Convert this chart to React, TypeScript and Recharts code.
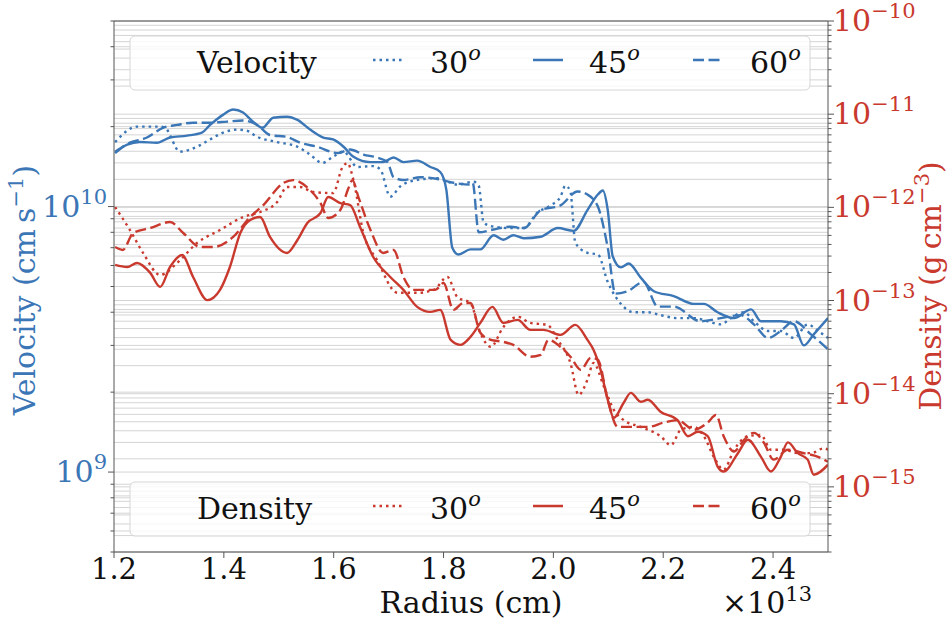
import React from 'react';
import { LineChart, Line, XAxis, YAxis, ReferenceLine } from 'recharts';

const BLUE = '#3b76b6';
const RED = '#c9392e';
const FONT = '"DejaVu Serif", "Liberation Serif", "Times New Roman", serif';
const SPINE = '#555555';
const GRID = '#d4d4d4';
const FS = 30;
const FS_SUP = 21;

// radius in units of 1e13 cm; velocity in units of 1e9 cm/s; density in units of 1e-15 g/cm^3
const velocity30: [number, number][] = [
  [1.202, 17.5], [1.242, 20.0], [1.284, 20.0], [1.293, 19.8], [1.320, 16.1], [1.351, 16.8],
  [1.375, 17.9], [1.399, 19.0], [1.424, 19.5], [1.442, 19.3], [1.461, 18.3], [1.497, 17.5],
  [1.534, 16.8], [1.557, 15.7], [1.579, 14.6], [1.599, 15.4], [1.618, 16.1], [1.643, 14.1],
  [1.672, 14.2], [1.685, 13.8], [1.703, 10.9], [1.721, 11.9], [1.752, 12.6], [1.789, 12.8],
  [1.825, 12.1], [1.855, 12.4], [1.864, 12.0], [1.873, 8.7], [1.891, 8.4], [1.922, 8.3],
  [1.946, 8.3], [1.971, 9.5], [1.995, 10.1], [2.013, 10.9], [2.022, 12.0], [2.031, 11.4],
  [2.040, 7.3], [2.062, 6.7], [2.081, 6.6], [2.099, 5.2], [2.123, 4.3], [2.146, 4.0],
  [2.172, 4.0], [2.195, 3.9], [2.226, 3.8], [2.256, 3.8], [2.281, 3.7], [2.305, 3.6],
  [2.323, 3.8], [2.347, 4.0], [2.365, 3.7], [2.391, 3.4], [2.414, 3.4], [2.438, 3.2],
  [2.463, 3.6], [2.482, 3.4], [2.500, 3.2],
];

const velocity45: [number, number][] = [
  [1.202, 15.9], [1.224, 17.1], [1.247, 17.5], [1.278, 17.4], [1.302, 18.2], [1.333, 18.5],
  [1.360, 19.0], [1.375, 20.3], [1.399, 22.2], [1.417, 23.2], [1.435, 22.6], [1.453, 20.9],
  [1.470, 19.8], [1.490, 21.6], [1.515, 21.8], [1.534, 21.2], [1.557, 19.5], [1.581, 18.2],
  [1.599, 17.9], [1.618, 16.8], [1.636, 15.4], [1.667, 14.7], [1.690, 14.7], [1.709, 15.3],
  [1.727, 14.7], [1.752, 14.9], [1.776, 14.1], [1.794, 13.5], [1.805, 11.6], [1.816, 7.0],
  [1.827, 6.6], [1.849, 6.9], [1.867, 6.9], [1.891, 7.8], [1.909, 7.5], [1.927, 7.8],
  [1.946, 7.6], [1.977, 7.7], [2.008, 8.3], [2.037, 8.1], [2.062, 9.7], [2.081, 11.1],
  [2.090, 11.5], [2.099, 9.7], [2.108, 6.5], [2.123, 5.9], [2.137, 6.1], [2.159, 5.4],
  [2.183, 4.8], [2.219, 4.6], [2.256, 4.3], [2.274, 4.3], [2.299, 4.0], [2.329, 3.8],
  [2.360, 4.1], [2.378, 3.7], [2.414, 3.7], [2.438, 3.6], [2.456, 3.0], [2.474, 3.3],
  [2.500, 3.8],
];

const velocity60: [number, number][] = [
  [1.202, 16.1], [1.229, 17.4], [1.260, 18.2], [1.289, 19.8], [1.315, 20.3], [1.344, 20.7],
  [1.375, 20.7], [1.406, 20.9], [1.435, 21.1], [1.461, 20.3], [1.484, 18.6], [1.515, 18.3],
  [1.539, 17.4], [1.570, 16.8], [1.607, 15.9], [1.630, 16.4], [1.654, 15.7], [1.679, 15.3],
  [1.698, 14.7], [1.709, 12.9], [1.727, 12.6], [1.758, 12.9], [1.789, 12.7], [1.818, 12.3],
  [1.849, 12.1], [1.853, 12.3], [1.864, 8.0], [1.891, 8.2], [1.922, 8.4], [1.946, 8.3],
  [1.977, 9.7], [2.013, 10.1], [2.044, 11.4], [2.062, 11.1], [2.081, 10.0], [2.099, 7.0],
  [2.113, 4.7], [2.135, 4.8], [2.164, 5.2], [2.190, 4.2], [2.219, 4.2], [2.268, 3.7],
  [2.305, 3.8], [2.341, 3.9], [2.365, 3.6], [2.391, 3.2], [2.414, 3.4], [2.438, 3.7],
  [2.469, 3.3], [2.500, 2.9],
];

const density30: [number, number][] = [
  [1.202, 1007], [1.229, 571], [1.253, 324], [1.284, 188], [1.315, 253], [1.351, 414],
  [1.393, 571], [1.435, 787], [1.466, 891], [1.497, 1140], [1.515, 1651], [1.539, 1651],
  [1.563, 1459], [1.599, 1423], [1.616, 2704], [1.625, 2985], [1.636, 1962], [1.654, 531],
  [1.679, 272], [1.716, 121], [1.752, 121], [1.782, 130], [1.807, 179], [1.825, 109],
  [1.849, 94], [1.867, 45], [1.886, 31.8], [1.909, 52], [1.935, 67], [1.958, 57.5],
  [1.989, 54.8], [2.008, 37.8], [2.031, 21.4], [2.046, 9.7], [2.062, 14.1], [2.073, 21.4],
  [2.092, 11.9], [2.110, 6.7], [2.128, 5.2], [2.159, 4.4], [2.195, 3.5], [2.214, 2.8],
  [2.232, 4.1], [2.256, 4.4], [2.274, 3.5], [2.292, 2.1], [2.310, 1.53], [2.329, 2.5],
  [2.354, 3.5], [2.378, 3.6], [2.396, 2.5], [2.420, 2.5], [2.445, 2.3], [2.469, 2.3],
  [2.493, 2.6], [2.500, 2.5],
];

const density45: [number, number][] = [
  [1.202, 241], [1.224, 229], [1.242, 253], [1.266, 198], [1.284, 140], [1.302, 229],
  [1.324, 308], [1.344, 179], [1.370, 101], [1.393, 130], [1.411, 229], [1.430, 531],
  [1.448, 731], [1.466, 787], [1.484, 481], [1.515, 324], [1.534, 446], [1.552, 679],
  [1.576, 869], [1.590, 1290], [1.612, 1112], [1.630, 1059], [1.648, 615], [1.672, 293],
  [1.703, 179], [1.727, 130], [1.752, 85.4], [1.776, 75.5], [1.794, 79.3], [1.813, 37.8],
  [1.831, 33.4], [1.849, 40.7], [1.867, 57.5], [1.889, 85.4], [1.909, 57.5], [1.935, 62],
  [1.958, 48.4], [1.982, 48.4], [2.013, 42.8], [2.040, 54.8], [2.062, 37.8], [2.073, 29.6],
  [2.086, 18.0], [2.099, 8.6], [2.110, 5.5], [2.128, 8.0], [2.141, 10.2], [2.159, 8.2],
  [2.172, 8.6], [2.195, 6.4], [2.226, 5.2], [2.245, 3.5], [2.263, 3.9], [2.281, 3.5],
  [2.299, 1.65], [2.310, 1.46], [2.336, 2.3], [2.354, 3.2], [2.378, 2.1], [2.396, 1.46],
  [2.414, 2.1], [2.427, 3.0], [2.445, 2.3], [2.463, 1.96], [2.474, 1.35], [2.500, 1.73],
];

const density60: [number, number][] = [
  [1.202, 375], [1.216, 349], [1.235, 531], [1.266, 600], [1.302, 695], [1.326, 531],
  [1.357, 375], [1.380, 375], [1.417, 481], [1.448, 787], [1.472, 1059], [1.508, 1821],
  [1.526, 1962], [1.557, 1532], [1.576, 1112], [1.590, 768], [1.612, 935], [1.627, 1610],
  [1.634, 1962], [1.645, 1290], [1.667, 571], [1.690, 324], [1.709, 349], [1.727, 179],
  [1.745, 130], [1.771, 130], [1.785, 130], [1.800, 154], [1.818, 79.3], [1.836, 94.2],
  [1.849, 94.2], [1.867, 45], [1.886, 37.8], [1.909, 36], [1.927, 33.4], [1.958, 24.9],
  [1.977, 26.1], [1.991, 37.8], [2.013, 31.8], [2.031, 24.9], [2.050, 18.0], [2.068, 24.3],
  [2.081, 23.1], [2.099, 8.6], [2.117, 4.4], [2.141, 4.4], [2.172, 4.4], [2.201, 4.9],
  [2.226, 5.2], [2.256, 4.1], [2.281, 4.9], [2.296, 5.9], [2.310, 3.5], [2.329, 2.4],
  [2.347, 3.2], [2.365, 3.8], [2.383, 3.0], [2.401, 1.96], [2.427, 2.5], [2.456, 2.3],
  [2.482, 2.1], [2.500, 1.86],
];

const xTicks = [1.2, 1.4, 1.6, 1.8, 2.0, 2.2, 2.4];
const velMajorTicks = [1, 10];
const velMinorTicks = [0.5, 0.6, 0.7, 0.8, 0.9, 2, 3, 4, 5, 6, 7, 8, 9, 20, 30, 40, 50];
const denMajorTicks = [1, 10, 100, 1000, 10000, 100000];
const denMinorTicks = [
  0.2, 0.3, 0.4, 0.5, 0.6, 0.7, 0.8, 0.9,
  2, 3, 4, 5, 6, 7, 8, 9,
  20, 30, 40, 50, 60, 70, 80, 90,
  200, 300, 400, 500, 600, 700, 800, 900,
  2000, 3000, 4000, 5000, 6000, 7000, 8000, 9000,
  20000, 30000, 40000, 50000, 60000, 70000, 80000, 90000,
];
const velExpOffset = 9;
const denExpOffset = -15;

const DOTTED = '2.5 4';
const DASHED = '11 4.5';

const toPts = (arr: [number, number][]) => arr.map(([x, y]) => ({ x, y }));

const velTicksAll = [...velMinorTicks, ...velMajorTicks].sort((a, b) => a - b);
const denTicksAll = [...denMinorTicks, ...denMajorTicks].sort((a, b) => a - b);

const expOf = (v: number, off: number) => {
  const e = Math.round(Math.log10(v)) + off;
  return e < 0 ? '\u2212' + Math.abs(e) : String(e);
};

const VelTick = (props: any) => {
  const { x, y, payload } = props;
  const v = payload.value;
  const major = velMajorTicks.includes(v);
  return (
    <g>
      <line x1={x} x2={x - (major ? 6 : 3.5)} y1={y} y2={y} stroke={SPINE} strokeWidth={1} />
      {major && (
        <text x={x - 7} y={y + 10} textAnchor="end" fill={BLUE} fontSize={FS} fontFamily={FONT}>
          10<tspan dy={-13} fontSize={FS_SUP}>{expOf(v, velExpOffset)}</tspan>
        </text>
      )}
    </g>
  );
};

const DenTick = (props: any) => {
  const { x, y, payload } = props;
  const v = payload.value;
  const major = denMajorTicks.includes(v);
  return (
    <g>
      <line x1={x} x2={x + (major ? 6 : 3.5)} y1={y} y2={y} stroke={SPINE} strokeWidth={1} />
      {major && (
        <text x={x + 5} y={y + 10} textAnchor="start" fill={RED} fontSize={FS} fontFamily={FONT}>
          10<tspan dy={-13} fontSize={FS_SUP}>{expOf(v, denExpOffset)}</tspan>
        </text>
      )}
    </g>
  );
};

const XTick = (props: any) => {
  const { x, y, payload } = props;
  return (
    <g>
      <line x1={x} x2={x} y1={y} y2={y + 6} stroke={SPINE} strokeWidth={1} />
      <text x={x} y={y + 27} textAnchor="middle" fill="#111" fontSize={29} fontFamily={FONT}>
        {Number(payload.value).toFixed(1)}
      </text>
    </g>
  );
};

const legendAngles = ['30', '45', '60'];
const legendDash = [DOTTED, undefined, DASHED];

const LegendBox = ({ top, title, color }: { top: number; title: string; color: string }) => {
  const handleX = [373, 533, 693];
  const labelX = [430, 589, 750];
  return (
    <g>
      <rect x={130} y={top} width={680} height={54} rx={5} ry={5} fill="rgba(255,255,255,0.8)" stroke="#d6d6d6" strokeWidth={1} />
      <text x={197} y={top + 37} fontSize={FS} fontFamily={FONT} fill="#111">{title}</text>
      {legendAngles.map((a, i) => (
        <g key={a}>
          <line x1={handleX[i]} x2={handleX[i] + 30} y1={top + 24} y2={top + 24} stroke={color} strokeWidth={2.5} strokeDasharray={legendDash[i]} />
          <text x={labelX[i]} y={top + 37} fontSize={FS} fontFamily={FONT} fill="#111">
            {a}<tspan dy={-13} fontSize={FS_SUP} fontStyle="italic">o</tspan>
          </text>
        </g>
      ))}
    </g>
  );
};

export default function App() {
  return (
    <div style={{ position: 'absolute', left: 0, top: 0, width: 951, height: 624, background: '#fff' }}>
      <LineChart width={951} height={624} margin={{ top: 21, right: 63, bottom: 42, left: 54 }}>
        <XAxis
          dataKey="x"
          type="number"
          domain={[1.2, 2.5]}
          ticks={xTicks}
          interval={0}
          allowDataOverflow
          tickSize={0}
          tickMargin={0}
          tickLine={false}
          tick={(p: any) => <XTick {...p} />}
          axisLine={{ stroke: SPINE, strokeWidth: 1 }}
          height={30}
        />
        <YAxis
          yAxisId="v"
          orientation="left"
          scale="log"
          domain={[0.5, 50]}
          allowDataOverflow
          ticks={velTicksAll}
          interval={0}
          tickSize={0}
          tickMargin={0}
          tickLine={false}
          tick={(p: any) => <VelTick {...p} />}
          axisLine={{ stroke: SPINE, strokeWidth: 1 }}
          width={60}
        />
        <YAxis
          yAxisId="d"
          orientation="right"
          scale="log"
          domain={[0.2, 100000]}
          allowDataOverflow
          ticks={denTicksAll}
          interval={0}
          tickSize={0}
          tickMargin={0}
          tickLine={false}
          tick={(p: any) => <DenTick {...p} />}
          axisLine={{ stroke: SPINE, strokeWidth: 1 }}
          width={60}
        />
        {velTicksAll.map((t) => (
          <ReferenceLine key={'gv' + t} yAxisId="v" y={t} stroke={GRID} strokeWidth={1} />
        ))}
        {denTicksAll.map((t) => (
          <ReferenceLine key={'gd' + t} yAxisId="d" y={t} stroke={GRID} strokeWidth={1} />
        ))}
        <ReferenceLine yAxisId="v" y={50} stroke={SPINE} strokeWidth={1} />
        <Line data={toPts(velocity30)} dataKey="y" yAxisId="v" type="monotone" stroke={BLUE} strokeWidth={2.4} strokeDasharray={DOTTED} dot={false} isAnimationActive={false} />
        <Line data={toPts(velocity45)} dataKey="y" yAxisId="v" type="monotone" stroke={BLUE} strokeWidth={2.4} dot={false} isAnimationActive={false} />
        <Line data={toPts(velocity60)} dataKey="y" yAxisId="v" type="monotone" stroke={BLUE} strokeWidth={2.4} strokeDasharray={DASHED} dot={false} isAnimationActive={false} />
        <Line data={toPts(density30)} dataKey="y" yAxisId="d" type="monotone" stroke={RED} strokeWidth={2.4} strokeDasharray={DOTTED} dot={false} isAnimationActive={false} />
        <Line data={toPts(density45)} dataKey="y" yAxisId="d" type="monotone" stroke={RED} strokeWidth={2.4} dot={false} isAnimationActive={false} />
        <Line data={toPts(density60)} dataKey="y" yAxisId="d" type="monotone" stroke={RED} strokeWidth={2.4} strokeDasharray={DASHED} dot={false} isAnimationActive={false} />
      </LineChart>
      <svg width={951} height={624} style={{ position: 'absolute', left: 0, top: 0, pointerEvents: 'none' }}>
        <LegendBox top={36} title="Velocity" color={BLUE} />
        <LegendBox top={482} title="Density" color={RED} />
        <text transform="translate(35,290) rotate(-90)" textAnchor="middle" fontSize={FS} fontFamily={FONT} fill={BLUE}>
          Velocity (cm{'\u2009'}s<tspan dy={-12} fontSize={FS_SUP}>{'\u2212'}1</tspan><tspan dy={12}>)</tspan>
        </text>
        <text transform="translate(941,286) rotate(-90)" textAnchor="middle" fontSize={FS} fontFamily={FONT} fill={RED}>
          Density (g{'\u2009'}cm<tspan dy={-12} fontSize={FS_SUP}>{'\u2212'}3</tspan><tspan dy={12}>)</tspan>
        </text>
        <text x={471} y={613} textAnchor="middle" fontSize={FS} fontFamily={FONT} fill="#111">Radius (cm)</text>
        <text x={812} y={613} textAnchor="end" fontSize={FS} fontFamily={FONT} fill="#111">
          {'\u00d7'}10<tspan dy={-12} fontSize={FS_SUP}>13</tspan>
        </text>
      </svg>
    </div>
  );
}
